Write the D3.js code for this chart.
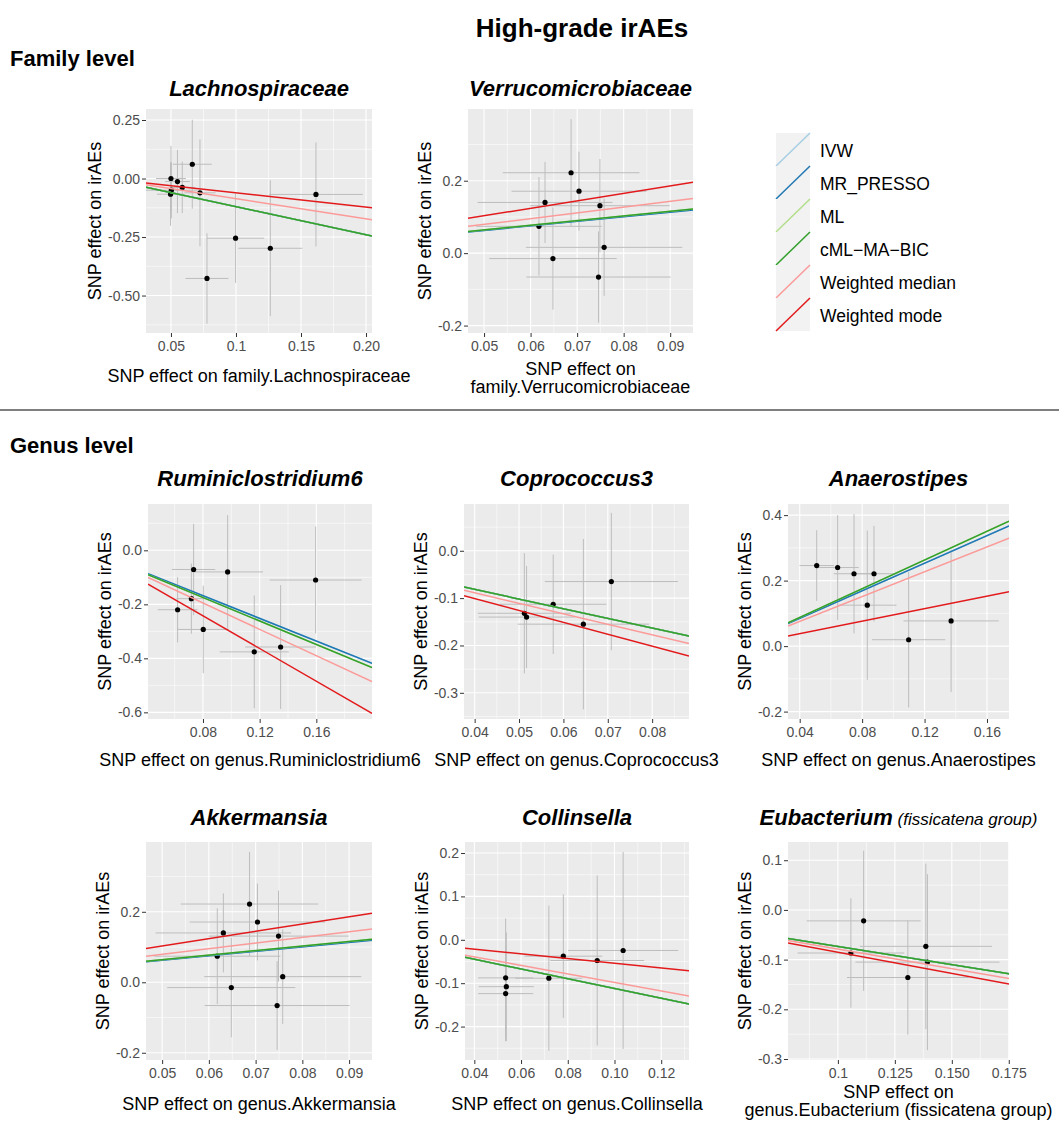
<!DOCTYPE html>
<html>
<head>
<meta charset="utf-8">
<script src="https://cdn.jsdelivr.net/npm/d3@7"></script>
<style>
  body { margin: 0; background: #fff; }
  svg { font-family: "Liberation Sans", Arial, sans-serif; }
</style>
</head>
<body>
<svg width="1059" height="1121"></svg>
<script>
// MR methods, drawn in this order (later ones on top)
var methods = ["IVW", "MR_PRESSO", "ML", "cML\u2212MA\u2212BIC", "Weighted median", "Weighted mode"];
var methodColors = ["#a6cee3", "#1f78b4", "#b2df8a", "#33a02c", "#fb9a99", "#e31a1c"];

// family.Lachnospiraceae
var lachBx  = [0.050, 0.0497, 0.0503, 0.055, 0.0587, 0.0664, 0.0723, 0.0997, 0.0777, 0.1264, 0.1615];
var lachBy  = [0.000, -0.067, -0.050, -0.013, -0.038, 0.061, -0.061, -0.255, -0.427, -0.298, -0.068];
var lachSeX = [0.0115, 0.0105, 0.020, 0.0095, 0.0095, 0.015, 0.012, 0.022, 0.0165, 0.0246, 0.036];
var lachSeY = [0.139, 0.135, 0.120, 0.135, 0.110, 0.190, 0.228, 0.191, 0.193, 0.290, 0.222];
var lachSlopes = [-1.2, -1.2, -1.2, -1.2, -0.86, -0.61];

// family.Verrucomicrobiaceae (same instruments as genus.Akkermansia)
var verrBx  = [0.0687, 0.0704, 0.0631, 0.0749, 0.0618, 0.0648, 0.0758, 0.0746];
var verrBy  = [0.222, 0.171, 0.140, 0.131, 0.074, -0.015, 0.016, -0.066];
var verrSeX = [0.0147, 0.0145, 0.0145, 0.015, 0.0135, 0.0137, 0.0168, 0.0155];
var verrSeY = [0.148, 0.109, 0.112, 0.129, 0.136, 0.141, 0.134, 0.126];
var verrSlopes = [1.255, 1.255, 1.285, 1.285, 1.59, 2.065];

// genus.Ruminiclostridium6
var rumiBx  = [0.0734, 0.0974, 0.0718, 0.0621, 0.0802, 0.1162, 0.1348, 0.1595];
var rumiBy  = [-0.071, -0.080, -0.179, -0.220, -0.293, -0.376, -0.358, -0.110];
var rumiSeX = [0.0153, 0.025, 0.0105, 0.014, 0.018, 0.0244, 0.025, 0.0325];
var rumiSeY = [0.169, 0.210, 0.130, 0.121, 0.162, 0.209, 0.229, 0.198];
var rumiSlopes = [-2.10, -2.10, -2.18, -2.18, -2.44, -3.03];

// genus.Coprococcus3
var coprBx  = [0.0708, 0.0577, 0.0512, 0.0517, 0.0645];
var coprBy  = [-0.065, -0.113, -0.132, -0.140, -0.155];
var coprSeX = [0.015, 0.012, 0.0105, 0.0108, 0.0148];
var coprSeY = [0.145, 0.105, 0.127, 0.108, 0.180];
var coprSlopes = [-2.04, -2.04, -2.04, -2.04, -2.22, -2.52];

// genus.Anaerostipes
var anaeBx  = [0.0509, 0.0643, 0.0748, 0.0876, 0.0833, 0.1098, 0.137];
var anaeBy  = [0.246, 0.240, 0.221, 0.221, 0.125, 0.0195, 0.077];
var anaeSeX = [0.011, 0.0135, 0.013, 0.015, 0.0187, 0.0235, 0.0305];
var anaeSeY = [0.108, 0.160, 0.182, 0.146, 0.228, 0.207, 0.217];
var anaeSlopes = [2.11, 2.11, 2.19, 2.19, 1.895, 0.955];

// genus.Collinsella
var collBx  = [0.1037, 0.0926, 0.0781, 0.0719, 0.0534, 0.0537, 0.0534];
var collBy  = [-0.0246, -0.0477, -0.0377, -0.0885, -0.0877, -0.108, -0.124];
var collSeX = [0.0236, 0.0201, 0.0167, 0.0144, 0.0118, 0.0118, 0.0118];
var collSeY = [0.227, 0.196, 0.1425, 0.167, 0.137, 0.125, 0.110];
var collSlopes = [-1.12, -1.12, -1.12, -1.12, -0.98, -0.54];

// genus.Eubacterium (fissicatena group)
var eubaBx  = [0.1113, 0.1057, 0.1386, 0.1393, 0.1307];
var eubaBy  = [-0.022, -0.0867, -0.0733, -0.105, -0.136];
var eubaSeX = [0.025, 0.0234, 0.029, 0.0316, 0.0267];
var eubaSeY = [0.141, 0.110, 0.1665, 0.177, 0.115];
var eubaSlopes = [-0.735, -0.735, -0.735, -0.735, -0.787, -0.852];

// axis domains and ticks
var lachXDom = [0.0308, 0.2046], lachYDom = [-0.66, 0.297];
var lachXTicks = [0.05, 0.1, 0.15, 0.20], lachXLabels = ["0.05", "0.1", "0.15", "0.20"];
var lachYTicks = [0.25, 0, -0.25, -0.5], lachYLabels = ["0.25", "0.00", "-0.25", "-0.50"];

var verrXDom = [0.04655, 0.0949], verrYDom = [-0.2205, 0.398];
var verrXTicks = [0.05, 0.06, 0.07, 0.08, 0.09], verrXLabels = ["0.05", "0.06", "0.07", "0.08", "0.09"];
var verrYTicks = [0.2, 0, -0.2], verrYLabels = ["0.2", "0.0", "-0.2"];

var rumiXDom = [0.0412, 0.1993], rumiYDom = [-0.6246, 0.1715];
var rumiXTicks = [0.08, 0.12, 0.16], rumiXLabels = ["0.08", "0.12", "0.16"];
var rumiYTicks = [0, -0.2, -0.4, -0.6], rumiYLabels = ["0.0", "-0.2", "-0.4", "-0.6"];

var coprXDom = [0.0376, 0.0883], coprYDom = [-0.3553, 0.0988];
var coprXTicks = [0.04, 0.05, 0.06, 0.07, 0.08], coprXLabels = ["0.04", "0.05", "0.06", "0.07", "0.08"];
var coprYTicks = [0, -0.1, -0.2, -0.3], coprYLabels = ["0.0", "-0.1", "-0.2", "-0.3"];

var anaeXDom = [0.0325, 0.1741], anaeYDom = [-0.2226, 0.434];
var anaeXTicks = [0.04, 0.08, 0.12, 0.16], anaeXLabels = ["0.04", "0.08", "0.12", "0.16"];
var anaeYTicks = [0.4, 0.2, 0, -0.2], anaeYLabels = ["0.4", "0.2", "0.0", "-0.2"];

var collXDom = [0.036, 0.1319], collYDom = [-0.277, 0.2254];
var collXTicks = [0.04, 0.06, 0.08, 0.10, 0.12], collXLabels = ["0.04", "0.06", "0.08", "0.10", "0.12"];
var collYTicks = [0.2, 0.1, 0, -0.1, -0.2], collYLabels = ["0.2", "0.1", "0.0", "-0.1", "-0.2"];

var eubaXDom = [0.0781, 0.1751], eubaYDom = [-0.302, 0.1367];
var eubaXTicks = [0.1, 0.125, 0.15, 0.175], eubaXLabels = ["0.1", "0.125", "0.150", "0.175"];
var eubaYTicks = [0.1, 0, -0.1, -0.2, -0.3], eubaYLabels = ["0.1", "0.0", "-0.1", "-0.2", "-0.3"];

var svg = d3.select("svg");
var clipCount = 0;

// minor grid values halfway between major ticks
function minorVals(ticks, dom) {
  var t = ticks.slice().sort(d3.ascending), s = t[1] - t[0], out = [];
  for (var i = -1; i < t.length; i++) {
    var v = (i < 0 ? t[0] - s / 2 : t[i] + s / 2);
    if (v > dom[0] && v < dom[1]) out.push(v);
  }
  return out;
}

function drawPanel(p) {
  var w = p.right - p.left, h = p.bottom - p.top;
  var g = svg.append("g").attr("transform", "translate(" + p.left + "," + p.top + ")");
  var x = d3.scaleLinear().domain(p.xDom).range([0, w]);
  var y = d3.scaleLinear().domain(p.yDom).range([h, 0]);

  g.append("rect").attr("width", w).attr("height", h).attr("fill", "#ebebeb");

  // grid lines
  g.selectAll(".mx").data(minorVals(p.xTicks, p.xDom)).enter().append("line")
    .attr("x1", x).attr("x2", x).attr("y1", 0).attr("y2", h)
    .attr("stroke", "#fff").attr("stroke-width", 0.55);
  g.selectAll(".my").data(minorVals(p.yTicks, p.yDom)).enter().append("line")
    .attr("y1", y).attr("y2", y).attr("x1", 0).attr("x2", w)
    .attr("stroke", "#fff").attr("stroke-width", 0.55);
  g.selectAll(".gx").data(p.xTicks).enter().append("line")
    .attr("x1", x).attr("x2", x).attr("y1", 0).attr("y2", h)
    .attr("stroke", "#fff").attr("stroke-width", 1.1);
  g.selectAll(".gy").data(p.yTicks).enter().append("line")
    .attr("y1", y).attr("y2", y).attr("x1", 0).attr("x2", w)
    .attr("stroke", "#fff").attr("stroke-width", 1.1);

  var cid = "clip" + (clipCount++);
  g.append("clipPath").attr("id", cid).append("rect").attr("width", w).attr("height", h);
  var inner = g.append("g").attr("clip-path", "url(#" + cid + ")");

  var idx = d3.range(p.bx.length);
  // error bars
  inner.selectAll(".ev").data(idx).enter().append("line")
    .attr("x1", function(i) { return x(p.bx[i]); })
    .attr("x2", function(i) { return x(p.bx[i]); })
    .attr("y1", function(i) { return y(p.by[i] - p.seY[i]); })
    .attr("y2", function(i) { return y(p.by[i] + p.seY[i]); })
    .attr("stroke", "#bdbdbd").attr("stroke-width", 1);
  inner.selectAll(".eh").data(idx).enter().append("line")
    .attr("x1", function(i) { return x(p.bx[i] - p.seX[i]); })
    .attr("x2", function(i) { return x(p.bx[i] + p.seX[i]); })
    .attr("y1", function(i) { return y(p.by[i]); })
    .attr("y2", function(i) { return y(p.by[i]); })
    .attr("stroke", "#bdbdbd").attr("stroke-width", 1);
  inner.selectAll(".pt").data(idx).enter().append("circle")
    .attr("cx", function(i) { return x(p.bx[i]); })
    .attr("cy", function(i) { return y(p.by[i]); })
    .attr("r", 2.6).attr("fill", "#000");

  // MR estimate lines through the origin
  inner.selectAll(".fit").data(p.slopes).enter().append("line")
    .attr("x1", x(p.xDom[0])).attr("x2", x(p.xDom[1]))
    .attr("y1", function(b) { return y(b * p.xDom[0]); })
    .attr("y2", function(b) { return y(b * p.xDom[1]); })
    .attr("stroke", function(b, i) { return methodColors[i]; })
    .attr("stroke-width", 1.5);

  // axes
  var xa = g.append("g").attr("transform", "translate(0," + h + ")")
    .call(d3.axisBottom(x).tickValues(p.xTicks)
      .tickFormat(function(d, i) { return p.xLabels[i]; })
      .tickSize(4).tickPadding(4));
  var ya = g.append("g")
    .call(d3.axisLeft(y).tickValues(p.yTicks)
      .tickFormat(function(d, i) { return p.yLabels[i]; })
      .tickSize(4).tickPadding(2));
  [xa, ya].forEach(function(a) {
    a.attr("font-family", null).attr("font-size", 14);
    a.select(".domain").remove();
    a.selectAll("line").attr("stroke", "#333");
    a.selectAll("text").attr("fill", "#4d4d4d");
  });

  // y axis title
  var maxW = d3.max(ya.selectAll("text").nodes(), function(n) { return n.getComputedTextLength(); });
  g.append("text")
    .attr("transform", "translate(" + (-(6 + maxW + 13)) + "," + (h / 2) + ") rotate(-90)")
    .attr("text-anchor", "middle").attr("dy", "0.35em")
    .style("font-size", "18px").attr("fill", "#000")
    .text("SNP effect on irAEs");

  // x axis title (one or two lines)
  var xt = g.append("text").attr("text-anchor", "middle")
    .style("font-size", "18px").attr("fill", "#000");
  p.xTitle.forEach(function(line, i) {
    xt.append("tspan").attr("x", w / 2).attr("y", p.xTitleY - p.top + i * 18).text(line);
  });

  // panel title
  var tt = g.append("text").attr("x", w / 2).attr("y", p.titleY - p.top)
    .attr("text-anchor", "middle").attr("fill", "#000");
  tt.append("tspan").style("font-size", "22px").style("font-weight", "bold")
    .style("font-style", "italic").text(p.title);
  if (p.subtitle) {
    tt.append("tspan").style("font-size", "17px").style("font-style", "italic")
      .text(" " + p.subtitle);
  }
}

var panels = [
  {left: 146, right: 372, top: 109, bottom: 333, titleY: 96, xTitleY: 382,
   title: "Lachnospiraceae", xTitle: ["SNP effect on family.Lachnospiraceae"],
   bx: lachBx, by: lachBy, seX: lachSeX, seY: lachSeY, slopes: lachSlopes,
   xDom: lachXDom, yDom: lachYDom, xTicks: lachXTicks, xLabels: lachXLabels, yTicks: lachYTicks, yLabels: lachYLabels},
  {left: 468, right: 693, top: 109, bottom: 333, titleY: 96, xTitleY: 375,
   title: "Verrucomicrobiaceae", xTitle: ["SNP effect on", "family.Verrucomicrobiaceae"],
   bx: verrBx, by: verrBy, seX: verrSeX, seY: verrSeY, slopes: verrSlopes,
   xDom: verrXDom, yDom: verrYDom, xTicks: verrXTicks, xLabels: verrXLabels, yTicks: verrYTicks, yLabels: verrYLabels},
  {left: 148, right: 372, top: 504, bottom: 719, titleY: 486, xTitleY: 766,
   title: "Ruminiclostridium6", xTitle: ["SNP effect on genus.Ruminiclostridium6"],
   bx: rumiBx, by: rumiBy, seX: rumiSeX, seY: rumiSeY, slopes: rumiSlopes,
   xDom: rumiXDom, yDom: rumiYDom, xTicks: rumiXTicks, xLabels: rumiXLabels, yTicks: rumiYTicks, yLabels: rumiYLabels},
  {left: 464, right: 689, top: 504, bottom: 719, titleY: 486, xTitleY: 766,
   title: "Coprococcus3", xTitle: ["SNP effect on genus.Coprococcus3"],
   bx: coprBx, by: coprBy, seX: coprSeX, seY: coprSeY, slopes: coprSlopes,
   xDom: coprXDom, yDom: coprYDom, xTicks: coprXTicks, xLabels: coprXLabels, yTicks: coprYTicks, yLabels: coprYLabels},
  {left: 788, right: 1009, top: 504, bottom: 719, titleY: 486, xTitleY: 766,
   title: "Anaerostipes", xTitle: ["SNP effect on genus.Anaerostipes"],
   bx: anaeBx, by: anaeBy, seX: anaeSeX, seY: anaeSeY, slopes: anaeSlopes,
   xDom: anaeXDom, yDom: anaeYDom, xTicks: anaeXTicks, xLabels: anaeXLabels, yTicks: anaeYTicks, yLabels: anaeYLabels},
  {left: 146, right: 372, top: 842, bottom: 1060, titleY: 825, xTitleY: 1110,
   title: "Akkermansia", xTitle: ["SNP effect on genus.Akkermansia"],
   bx: verrBx, by: verrBy, seX: verrSeX, seY: verrSeY, slopes: verrSlopes,
   xDom: verrXDom, yDom: verrYDom, xTicks: verrXTicks, xLabels: verrXLabels, yTicks: verrYTicks, yLabels: verrYLabels},
  {left: 465, right: 689, top: 842, bottom: 1060, titleY: 825, xTitleY: 1110,
   title: "Collinsella", xTitle: ["SNP effect on genus.Collinsella"],
   bx: collBx, by: collBy, seX: collSeX, seY: collSeY, slopes: collSlopes,
   xDom: collXDom, yDom: collYDom, xTicks: collXTicks, xLabels: collXLabels, yTicks: collYTicks, yLabels: collYLabels},
  {left: 788, right: 1009, top: 842, bottom: 1060, titleY: 825, xTitleY: 1098,
   title: "Eubacterium", subtitle: "(fissicatena group)",
   xTitle: ["SNP effect on", "genus.Eubacterium (fissicatena group)"],
   bx: eubaBx, by: eubaBy, seX: eubaSeX, seY: eubaSeY, slopes: eubaSlopes,
   xDom: eubaXDom, yDom: eubaYDom, xTicks: eubaXTicks, xLabels: eubaXLabels, yTicks: eubaYTicks, yLabels: eubaYLabels}
];

panels.forEach(drawPanel);

// headings
svg.append("text").attr("x", 582).attr("y", 37).attr("text-anchor", "middle")
  .style("font-size", "26px").style("font-weight", "bold").text("High-grade irAEs");
svg.append("text").attr("x", 10).attr("y", 66)
  .style("font-size", "22px").style("font-weight", "bold").text("Family level");
svg.append("text").attr("x", 10).attr("y", 453)
  .style("font-size", "22px").style("font-weight", "bold").text("Genus level");
svg.append("line").attr("x1", 0).attr("x2", 1059).attr("y1", 410).attr("y2", 410)
  .attr("stroke", "#555").attr("stroke-width", 1.5);

// legend
var keyH = 33, keyW = 34;
var legend = svg.append("g").attr("transform", "translate(776,133)");
var keys = legend.selectAll(".key").data(methods).enter().append("g")
  .attr("transform", function(d, i) { return "translate(0," + (i * keyH) + ")"; });
keys.append("rect").attr("width", keyW).attr("height", keyH).attr("fill", "#f2f2f2");
keys.append("line").attr("x1", 0).attr("y1", keyH).attr("x2", keyW).attr("y2", 0)
  .attr("stroke", function(d, i) { return methodColors[i]; }).attr("stroke-width", 1.5);
keys.append("text").attr("x", keyW + 10).attr("y", keyH / 2 + 1).attr("dy", "0.35em")
  .style("font-size", "17.5px").attr("fill", "#000").text(function(d) { return d; });
</script>
</body>
</html>
